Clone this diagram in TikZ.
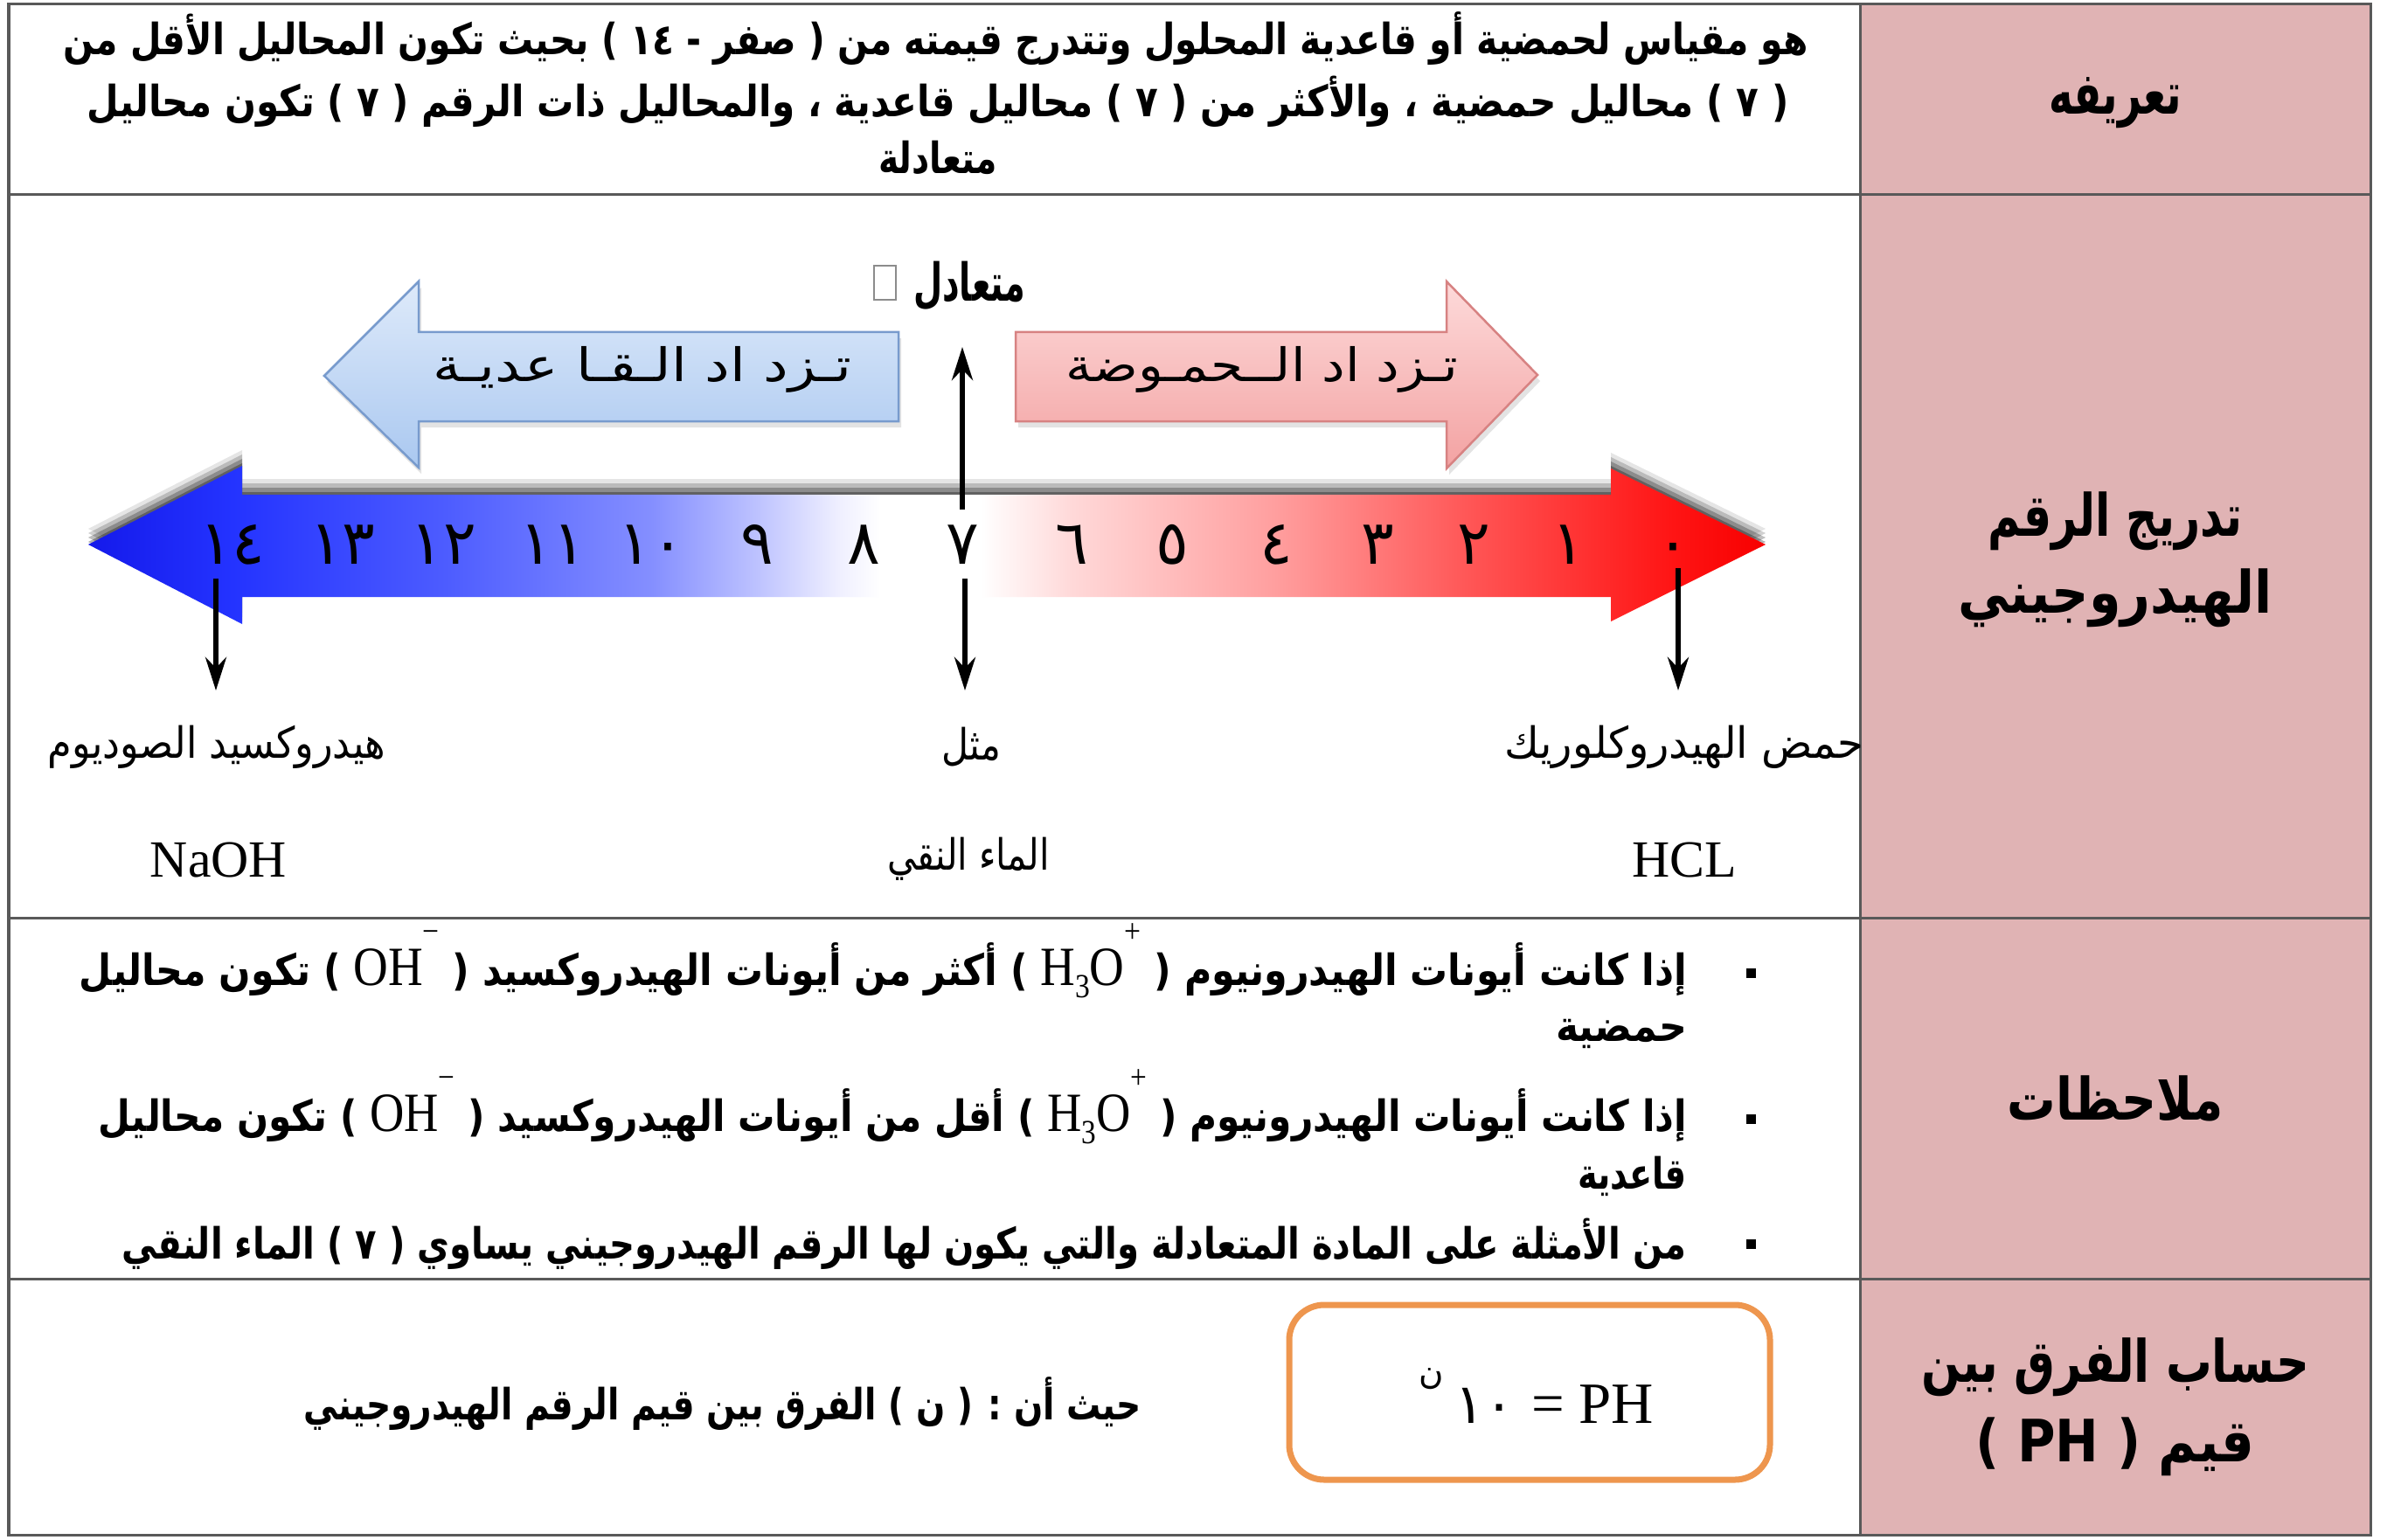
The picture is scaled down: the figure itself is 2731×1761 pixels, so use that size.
\documentclass[tikz,border=0pt]{standalone}
\usepackage{fontspec}
\usepackage{graphicx}
\usetikzlibrary{arrows.meta,shadows}
\TeXXeTstate=1
\newfontfamily\arabicfont[Script=Arabic]{DejaVu Sans}
\newfontfamily\serifrm{Liberation Serif}
\newdimen\pxu \pxu=0.01cm
\newcommand{\fs}[1]{\fontsize{#1pt}{#1pt}\selectfont}
% text squeezed or stretched to a given width (in px units), height kept
\newcommand{\artext}[3]{\resizebox{#1\pxu}{\height}{\fs{#2}\arabicfont #3}}
\newcommand{\arbold}[3]{\resizebox{#1\pxu}{\height}{\fs{#2}\arabicfont\bfseries #3}}
\newcommand{\latin}[1]{\beginL{\serifrm\mdseries\fs{18}#1}\endL{}}
\newcommand{\supx}[1]{\raisebox{0.78em}{\fs{11}#1}}
\newcommand{\subx}[1]{\raisebox{-0.22em}{\fs{11}#1}}
\definecolor{pinkcol}{RGB}{224,179,180}
\definecolor{blueA}{RGB}{222,234,250}
\definecolor{blueB}{RGB}{170,200,240}
\definecolor{blueE}{RGB}{120,155,205}
\definecolor{redA}{RGB}{253,218,218}
\definecolor{redB}{RGB}{243,162,162}
\definecolor{redE}{RGB}{215,130,130}
\definecolor{boxorange}{RGB}{238,150,78}
\pgfdeclarehorizontalshading{phband}{100bp}{%
  rgb(0bp)=(0.08,0.10,0.92);
  rgb(25bp)=(0.08,0.10,0.92);
  rgb(29.3bp)=(0.14,0.20,1);
  rgb(35.6bp)=(0.30,0.36,1);
  rgb(41.8bp)=(0.52,0.56,1);
  rgb(44.9bp)=(0.74,0.76,1);
  rgb(47.4bp)=(0.94,0.94,1);
  rgb(48.6bp)=(1,1,1);
  rgb(51.6bp)=(1,1,1);
  rgb(54.3bp)=(1,0.85,0.85);
  rgb(60.4bp)=(1,0.62,0.62);
  rgb(66.3bp)=(1,0.33,0.33);
  rgb(72.2bp)=(1,0.08,0.08);
  rgb(75bp)=(0.97,0,0);
  rgb(100bp)=(0.97,0,0)}
\begin{document}
\begin{tikzpicture}[x=0.01cm,y=-0.01cm,
  every node/.style={inner sep=0pt, outer sep=0pt},
  rule/.style={draw=black!65, line width=0.03cm},
  tickarrow/.style={line width=0.055cm, -{Stealth[length=0.38cm,width=0.24cm]}},
  digit/.style={font={\fs{20}\arabicfont}, anchor=base},
  bluearrow/.style={top color=blueA, bottom color=blueB, draw=blueE, line width=0.025cm,
    drop shadow={opacity=0.22, shadow xshift=0.03cm, shadow yshift=-0.07cm}},
  redarrow/.style={top color=redA, bottom color=redB, draw=redE, line width=0.025cm,
    drop shadow={opacity=0.22, shadow xshift=0.03cm, shadow yshift=-0.07cm}},
  formulabox/.style={draw=boxorange, line width=0.07cm, rounded corners=0.4cm},
  bulletsq/.style={fill=black, minimum size=0.11cm}
]
% canvas
\fill[white] (0,0) rectangle (2731,1761);
\useasboundingbox (0,0) rectangle (2731,1761);

% table frame and header column
\fill[pinkcol] (2128,5) rectangle (2712,1756);
\draw[rule] (10,5) rectangle (2712,1756);
\draw[rule] (2128,5) -- (2128,1756);
\foreach \yy in {223,1050,1463} \draw[rule] (10,\yy) -- (2712,\yy);

% header labels
\node (hdef) at (2420,118) {\arbold{152}{19}{\beginR تعريفه\endR}};
\node (hscale1) at (2420,596) {\arbold{291}{19}{\beginR تدريج  الرقم\endR}};
\node (hscale2) at (2420,684) {\arbold{359}{19}{\beginR الهيدروجيني\endR}};
\node (hnotes) at (2420,1257) {\arbold{247}{19}{\beginR ملاحظات\endR}};
\node (hcalc1) at (2420,1564) {\arbold{444}{19}{\beginR حساب الفرق بين\endR}};
\node (hcalc2) at (2420,1655) {\arbold{319}{19}{\beginR قيم ( PH )\endR}};

% definition
\node (def1) at (1071,44) {\arbold{1996}{14}{\beginR هو مقياس لحمضية أو قاعدية المحلول وتتدرج قيمته من ( صفر - ١٤ ) بحيث تكون المحاليل الأقل من\endR}};
\node (def2) at (1073,116) {\arbold{1947}{14}{\beginR ( ٧ ) محاليل حمضية ، والأكثر من ( ٧ ) محاليل قاعدية  ، والمحاليل ذات الرقم ( ٧ ) تكون محاليل\endR}};
\node (def3) at (1073,180) {\arbold{136}{14}{\beginR متعادلة\endR}};

% pH scale: soft shadow above the band, then the shaded double arrow
\foreach \s/\o in {3/0.30,8/0.25,13/0.18,18/0.10}{
  \fill[black, opacity=\o, yshift=\s*0.01cm]
    (101,623) -- (277,533) -- (277,566) -- (1843,566) -- (1843,536) -- (2020,623)
    -- (1843,711) -- (1843,683) -- (277,683) -- (277,714) -- cycle;
}
\path[shading=phband]
    (101,623) -- (277,533) -- (277,566) -- (1843,566) -- (1843,536) -- (2020,623)
    -- (1843,711) -- (1843,683) -- (277,683) -- (277,714) -- cycle;

% direction arrows
\path[bluearrow] (371,430) -- (479,322) -- (479,380) -- (1028,380) -- (1028,482)
  -- (479,482) -- (479,535) -- cycle;
\path[redarrow] (1162,380) -- (1655,380) -- (1655,322) -- (1759,429) -- (1655,536)
  -- (1655,482) -- (1162,482) -- cycle;
\node (basic) at (735,423) {\artext{479}{15}{\beginR تـزد اد   الـقـا عديـة\endR}};
\node (acidic) at (1444,423) {\artext{449}{15}{\beginR تـزد اد   الــحمـوضة\endR}};

% neutral mark
\node (neutral) at (1109,327) {\arbold{128}{17}{\beginR متعادل\endR}};
\draw[black!45, line width=0.015cm] (1000,304) rectangle (1025,343);

% scale digits
\foreach \nm/\xx/\dg in {14/266/١٤,13/392/١٣,12/507/١٢,11/632/١١,10/745/١٠,9/866/٩,8/988/٨,
                          7/1101/٧,6/1226/٦,5/1341/٥,4/1460/٤,3/1576/٣,2/1686/٢,1/1794/١,0/1914/٠}{
  \node[digit] (d\nm) at (\xx,645) {\dg};
}

% pointers
\coordinate (upS) at (1101,583);
\coordinate (upE) at (1101,397);
\draw[tickarrow] (upS) -- (upE);
\coordinate (p14S) at (247,662);
\coordinate (p14E) at (247,790);
\coordinate (p7S) at (1104,662);
\coordinate (p7E) at (1104,790);
\coordinate (p0S) at (1920,650);
\coordinate (p0E) at (1920,790);
\draw[tickarrow] (p14S) -- (p14E);
\draw[tickarrow] (p7S) -- (p7E);
\draw[tickarrow] (p0S) -- (p0E);

% examples
\node (naohname) at (248,855) {\artext{387}{14}{\beginR هيدروكسيد الصوديوم\endR}};
\node (example) at (1111,855) {\artext{68}{14}{\beginR مثل\endR}};
\node (hclname) at (1927,855) {\artext{411}{14}{\beginR حمض الهيدروكلوريك\endR}};
\node[anchor=base] (naoh) at (250,1003) {\fs{17}\serifrm NaOH};
\node (water) at (1108,983) {\artext{185}{14}{\beginR الماء النقي\endR}};
\node[anchor=base] (hcl) at (1927,1003) {\fs{17}\serifrm HCL};

% notes
\node[bulletsq] (b1) at (2003,1113) {};
\node[bulletsq] (b2) at (2003,1280) {};
\node[bulletsq] (b3) at (2003,1423) {};
\node[anchor=east] (n1) at (1930,1099) {\arbold{1839}{14}{\beginR إذا كانت أيونات الهيدرونيوم ( \latin{H\subx{3}O\supx{+}} ) أكثر من أيونات الهيدروكسيد ( \latin{OH\supx{−}} ) تكون محاليل\endR}};
\node[anchor=east] (n1b) at (1930,1183) {\arbold{150}{14}{\beginR حمضية\endR}};
\node[anchor=east] (n2) at (1930,1266) {\arbold{1817}{14}{\beginR إذا كانت أيونات الهيدرونيوم ( \latin{H\subx{3}O\supx{+}} ) أقل من أيونات الهيدروكسيد ( \latin{OH\supx{−}} ) تكون محاليل\endR}};
\node[anchor=east] (n2b) at (1930,1346) {\arbold{125}{14}{\beginR قاعدية\endR}};
\node[anchor=east] (n3) at (1930,1423) {\arbold{1790}{14}{\beginR من الأمثلة على المادة المتعادلة  والتي يكون لها الرقم الهيدروجيني يساوي ( ٧ )  الماء النقي\endR}};

% difference formula
\draw[formulabox] (1475,1493) rectangle (2025,1693);
\node[anchor=base west] (formula) at (1623,1628)
  {\fs{18}\arabicfont\raisebox{0.7em}{\fs{11}ن}\hspace{0.2em}١٠ {\serifrm\fs{19}= PH}};
\node (where) at (827,1606) {\arbold{958}{14}{\beginR حيث أن : ( ن ) الفرق بين قيم الرقم الهيدروجيني\endR}};
\end{tikzpicture}
\end{document}
